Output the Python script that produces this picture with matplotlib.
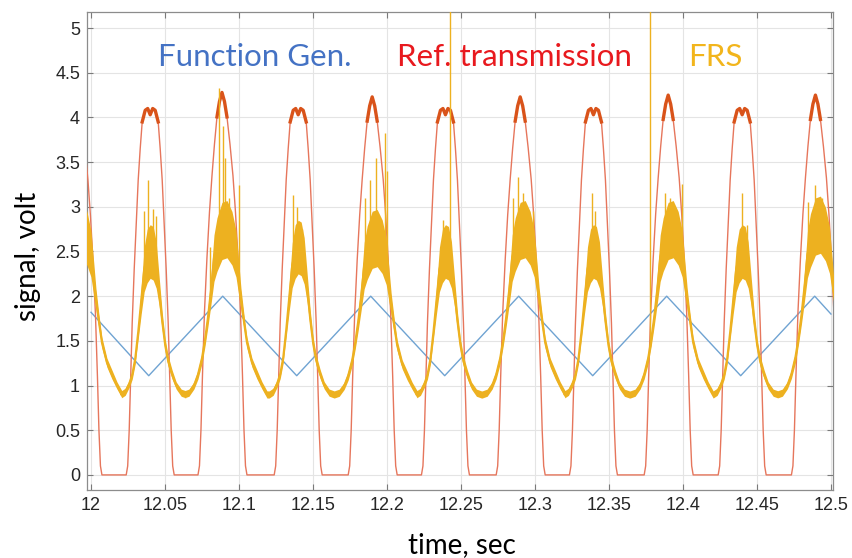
import numpy as np
import matplotlib.pyplot as plt

# one pixel of the original plot, in seconds (0.05 s = 74 px)
PX = 1 / 1480.0

# function generator: triangle corners
fg_t = [12.0, 12.039, 12.089, 12.139, 12.189, 12.239, 12.289, 12.339, 12.389, 12.439, 12.489, 12.5]
fg_v = [1.82, 1.11, 2.0, 1.11, 2.0, 1.11, 2.0, 1.11, 2.0, 1.11, 2.0, 1.80]

# reference transmission: pulse centres, kind (S = sharp top, F = flat top), peak height
ref_c = [11.9905, 12.0400, 12.0885, 12.1400, 12.1900, 12.2395, 12.2900, 12.3395, 12.3900, 12.4400, 12.4895]
ref_kind = ['S', 'F', 'S', 'F', 'S', 'F', 'S', 'F', 'S', 'F', 'S']
ref_peak = [4.22, 4.10, 4.28, 4.10, 4.23, 4.10, 4.23, 4.10, 4.25, 4.10, 4.25]

# pulse outlines (offset in px from centre, volts)
flat_off = [-24, -22.5, -21, -19.5, -18, -16, -14, -12, -10, -8, -5, -2.5, 0,
            2.5, 5, 8, 10, 12, 14, 16, 18, 19.5, 21, 22.5, 24]
flat_val = [0, 0.1, 0.5, 1.1, 1.7, 2.3, 2.8, 3.3, 3.65, 3.95, 4.08, 4.1, 4.03,
            4.1, 4.08, 3.95, 3.65, 3.3, 2.8, 2.3, 1.7, 1.1, 0.5, 0.1, 0]
sharp_off = [-24, -22.5, -21, -19.5, -17.5, -15, -12.5, -10, -7.5, -5, -2.5, 0,
             2.5, 5, 8, 11, 13.5, 16, 18.5, 20.5, 22, 23.5, 25]
sharp_val = [0, 0.1, 0.5, 1.1, 1.8, 2.4, 2.9, 3.3, 3.65, 3.95, 4.12, 4.22,
             4.12, 3.95, 3.65, 3.3, 2.9, 2.4, 1.8, 1.1, 0.5, 0.1, 0]

# FRS: level of the noisy hump at every pulse
frs_level = [2.75, 2.5, 2.75, 2.55, 2.65, 2.5, 2.75, 2.5, 2.75, 2.5, 2.8]
frs_flat_off = [-29, -25, -21, -18, -15, -12, -9, -6, -3, 0, 3, 6, 9, 12, 15, 18, 22, 26, 31, 36]
frs_flat_val = [0.9, 0.93, 1.02, 1.12, 1.3, 1.6, 1.95, 2.3, 2.45, 2.5, 2.48, 2.35, 2.05, 1.72, 1.45, 1.27, 1.12, 1.0, 0.92, 0.9]
frs_flat_hw = [0.04, 0.04, 0.04, 0.05, 0.06, 0.08, 0.15, 0.25, 0.3, 0.3, 0.3, 0.26, 0.16, 0.1, 0.07, 0.06, 0.05, 0.04, 0.04, 0.04]
frs_sharp_off = [-38, -33, -28, -24, -20, -17, -14, -11, -8, -5, 0, 5, 10, 14, 17, 19, 22, 25, 30, 35, 40, 45]
frs_sharp_val = [0.9, 0.92, 1.0, 1.12, 1.3, 1.5, 1.75, 2.05, 2.4, 2.55, 2.7, 2.72, 2.62, 2.45, 2.15, 1.95, 1.7, 1.47, 1.25, 1.12, 1.0, 0.9]
frs_sharp_hw = [0.04, 0.04, 0.04, 0.05, 0.06, 0.07, 0.1, 0.16, 0.26, 0.3, 0.32, 0.32, 0.3, 0.26, 0.18, 0.12, 0.08, 0.06, 0.05, 0.05, 0.04, 0.04]

# FRS spikes: time, top
spike_t = [12.0358, 12.0385, 12.0419, 12.0439, 12.0804, 12.0865, 12.0892, 12.0905, 12.0932, 12.1000,
           12.1365, 12.1392, 12.1426, 12.1851, 12.1885, 12.1926, 12.1986, 12.2000, 12.2378, 12.2426,
           12.2851, 12.2885, 12.2919, 12.2986, 12.3385, 12.3405, 12.3777, 12.3878, 12.3912, 12.3993,
           12.4399, 12.4432, 12.4845, 12.4892, 12.4939]
spike_top = [2.95, 3.3, 2.98, 2.9, 2.55, 4.33, 3.9, 3.55, 3.1, 3.24,
             3.13, 3.0, 2.75, 3.1, 3.3, 3.55, 3.83, 3.4, 2.85, 5.4,
             3.1, 3.33, 3.15, 2.95, 3.15, 2.95, 5.4, 3.15, 3.1, 3.25,
             3.15, 2.8, 3.05, 3.24, 3.1]

ref_t, ref_v = [], []
frs_t, frs_v, frs_hw = [], [], []
for c, k, p, lv in zip(ref_c, ref_kind, ref_peak, frs_level):
    if k == 'S':
        off, val = sharp_off, sharp_val
        yo, yv, yh = frs_sharp_off, frs_sharp_val, frs_sharp_hw
    else:
        off, val = flat_off, flat_val
        yo, yv, yh = frs_flat_off, frs_flat_val, frs_flat_hw
    top = max(val)
    ref_t += [c + o * PX for o in off]
    ref_v += [v * p / top for v in val]
    ytop = max(yv)
    frs_t += [c + o * PX for o in yo]
    frs_v += [0.9 + (v - 0.9) * (lv - 0.9) / (ytop - 0.9) for v in yv]
    frs_hw += yh
ref_t = np.array(ref_t)
ref_v = np.array(ref_v)
frs_t = np.array(frs_t)
frs_v = np.array(frs_v)
frs_hw = np.array(frs_hw)

fig = plt.figure(figsize=(8.53, 5.58), dpi=100)
ax = fig.add_axes([0.102, 0.122, 0.8746, 0.8565])

ax.plot(fg_t, fg_v, color='#6FA3D2', lw=1.0, zorder=3)
ax.plot(ref_t, ref_v, color='#E6765C', lw=1.0, zorder=4)
ax.plot(ref_t, np.where(ref_v > 3.85, ref_v, np.nan), color='#D9531A', lw=2.4, zorder=4)
ax.fill_between(frs_t, frs_v - frs_hw, frs_v + frs_hw, color='#EDB120', lw=0, zorder=5)
ax.plot(frs_t, frs_v, color='#EDB120', lw=1.5, zorder=5)
spike_base = np.interp(spike_t, frs_t, frs_v)
ax.vlines(spike_t, spike_base, spike_top, color='#EDB120', lw=1.0, zorder=5)

ax.set_xlim(11.9973, 12.5014)
ax.set_ylim(-0.168, 5.18)
xt = np.arange(12.0, 12.501, 0.05)
ax.set_xticks(xt)
ax.set_xticklabels(['%g' % round(v, 2) for v in xt])
yt = np.arange(0, 5.01, 0.5)
ax.set_yticks(yt)
ax.set_yticklabels(['%g' % v for v in yt])
ax.tick_params(direction='in', length=4, width=0.8, color='#7A7A7A', top=True, right=True,
               labelsize=13, pad=5)
for lab in ax.get_xticklabels() + ax.get_yticklabels():
    lab.set_family('Liberation Sans')
    lab.set_color('#262626')
for s in ax.spines.values():
    s.set_color('#8C8C8C')
    s.set_linewidth(0.9)
ax.grid(True, color='#E4E4E4', lw=0.8)
ax.set_axisbelow(True)

ax.text(12.0453, 4.675, 'Function Gen.', color='#4472C4', fontsize=22.5, family='Lato', va='center')
ax.text(12.2068, 4.675, 'Ref. transmission', color='#E8191E', fontsize=22.5, family='Lato', va='center')
ax.text(12.4034, 4.675, 'FRS', color='#F2B51C', fontsize=22.5, family='Lato', va='center')

fig.text(0.541, 0.023, 'time, sec', fontsize=20, family='Lato', ha='center', va='center')
fig.text(0.033, 0.54, 'signal, volt', fontsize=20, family='Lato', ha='center', va='center', rotation=90)

fig.savefig('out.png', dpi=100)
